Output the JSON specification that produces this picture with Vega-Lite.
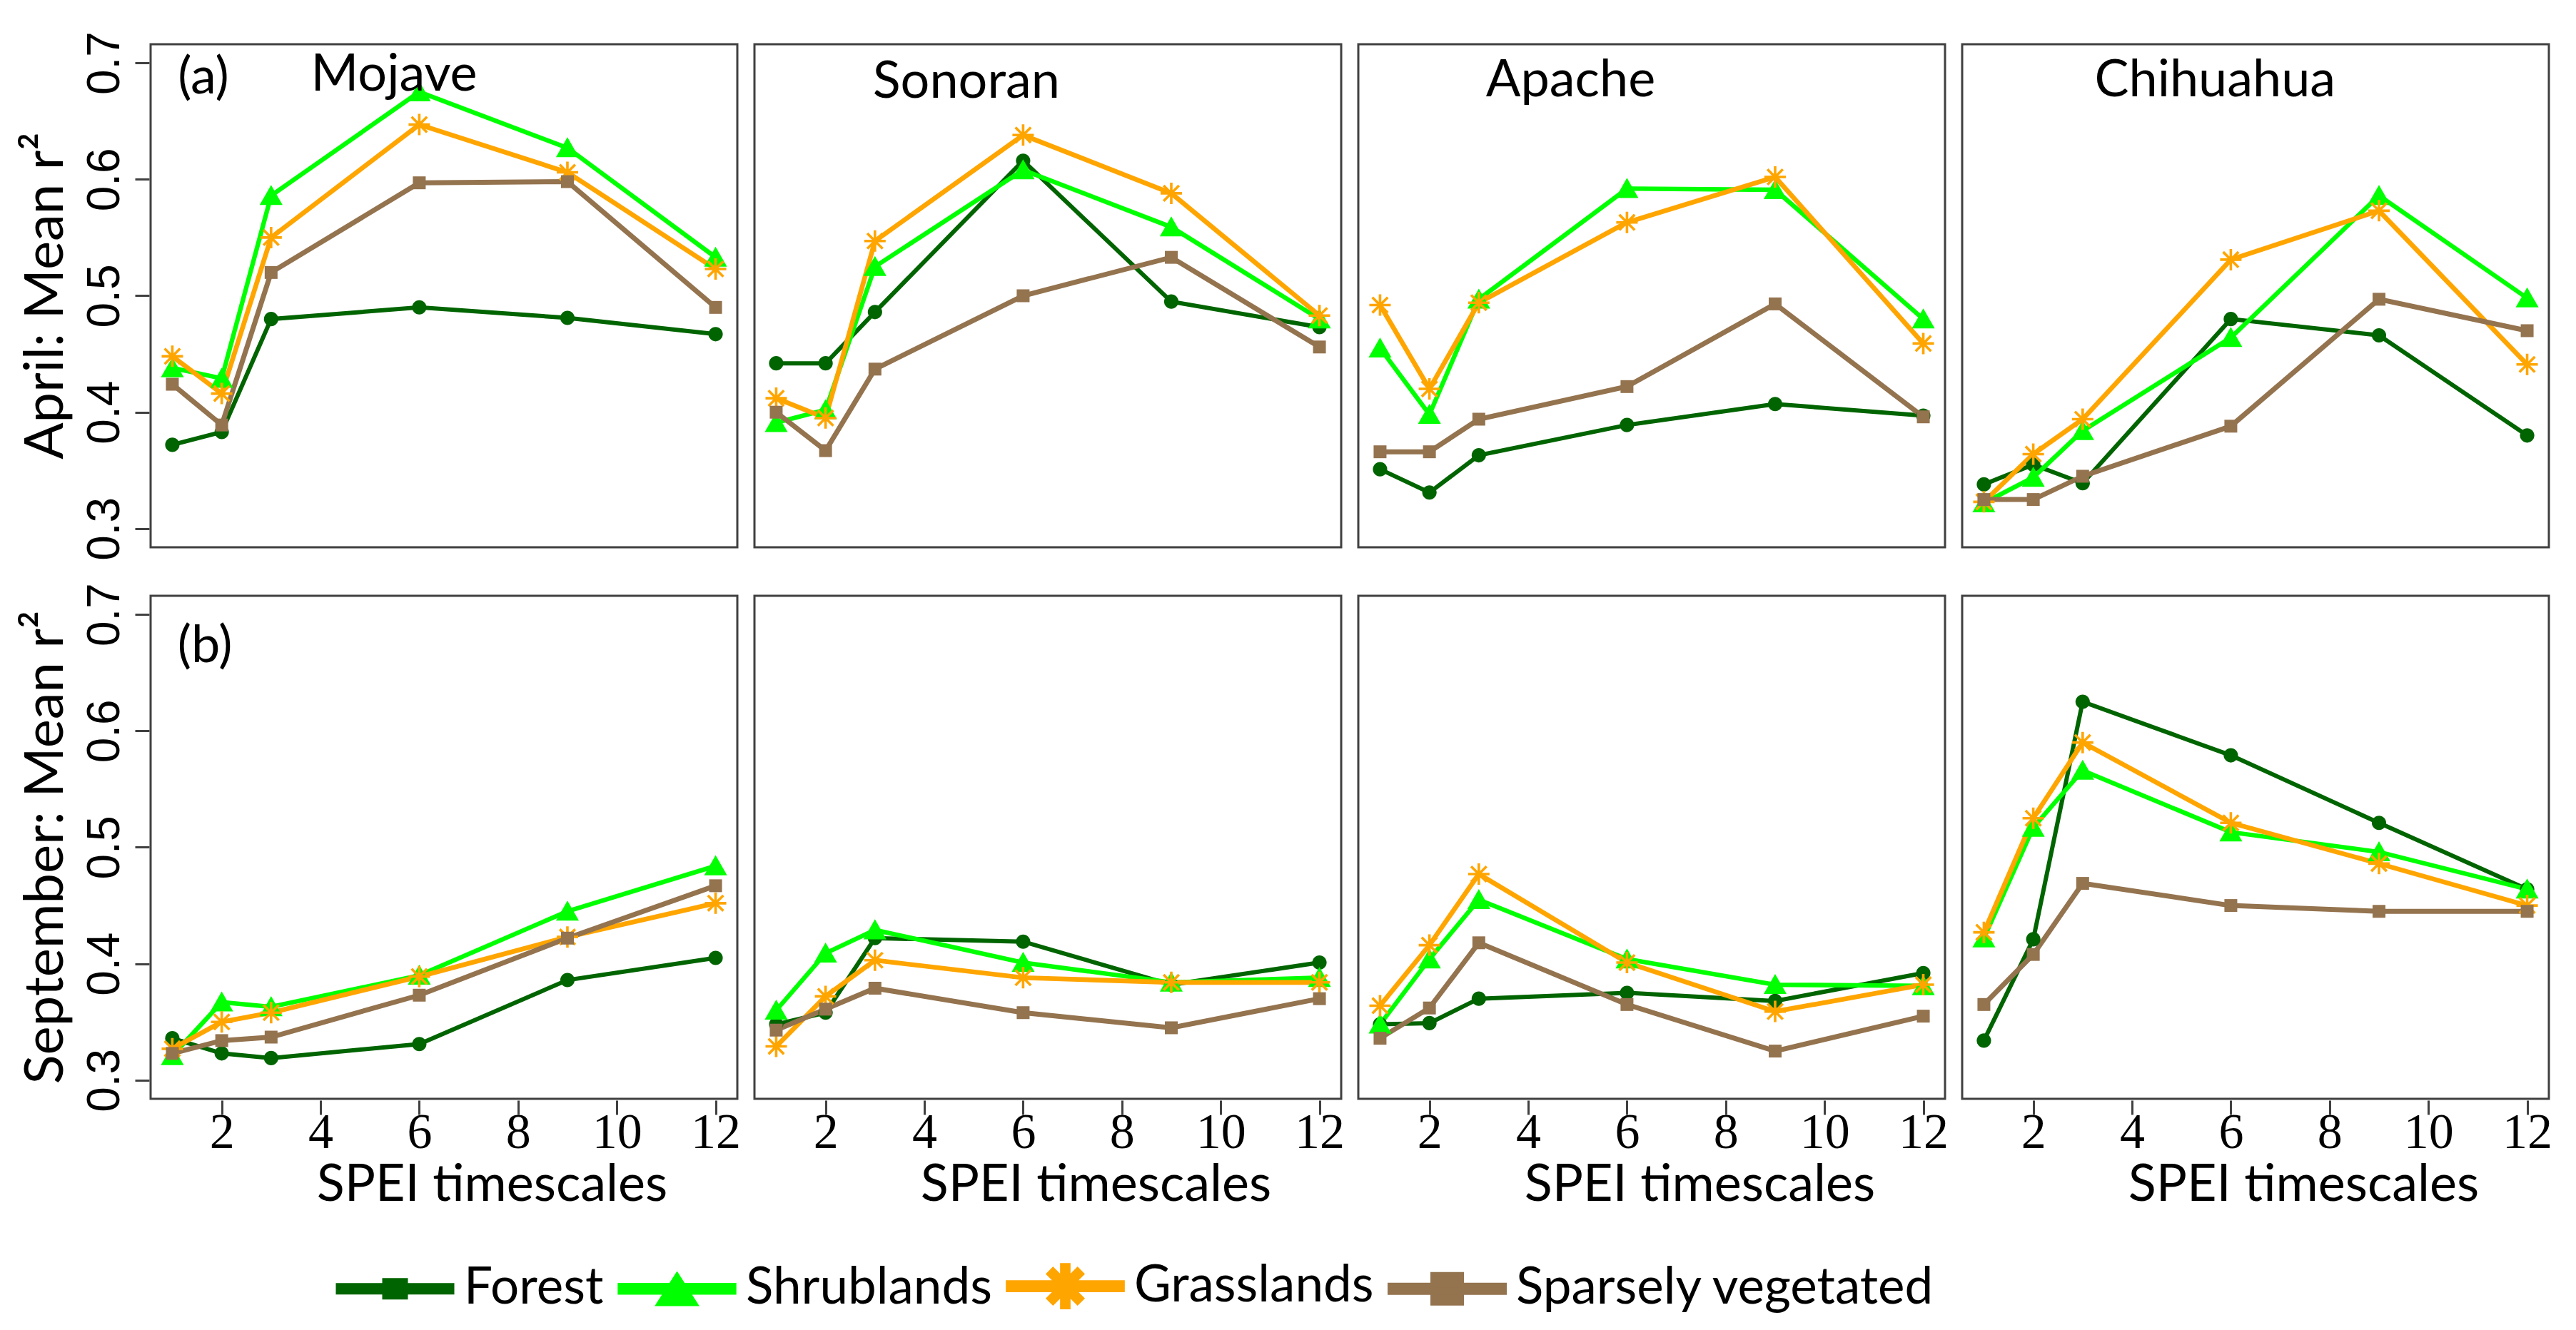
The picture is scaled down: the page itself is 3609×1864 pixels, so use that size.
{
 "$schema": "https://vega.github.io/schema/vega-lite/v6.json",
 "padding": {"left": 26, "top": 43, "right": 20, "bottom": 0},
 "background": "white",
 "config": {
  "font": "Lato",
  "view": {"stroke": "#404040", "strokeWidth": 3},
  "axis": {"grid": false, "domain": false, "tickColor": "#404040", "tickWidth": 3, "tickSize": 20, "labelColor": "#000000", "titleColor": "#000000"}
 },
 "data": {"values": [
  {"m":"April: Mean r²","g":"Mojave","c":"Forest","t":1,"r":0.372},{"m":"April: Mean r²","g":"Mojave","c":"Forest","t":2,"r":0.383},{"m":"April: Mean r²","g":"Mojave","c":"Forest","t":3,"r":0.480},{"m":"April: Mean r²","g":"Mojave","c":"Forest","t":6,"r":0.490},{"m":"April: Mean r²","g":"Mojave","c":"Forest","t":9,"r":0.481},{"m":"April: Mean r²","g":"Mojave","c":"Forest","t":12,"r":0.467},
  {"m":"April: Mean r²","g":"Mojave","c":"Shrublands","t":1,"r":0.438},{"m":"April: Mean r²","g":"Mojave","c":"Shrublands","t":2,"r":0.429},{"m":"April: Mean r²","g":"Mojave","c":"Shrublands","t":3,"r":0.586},{"m":"April: Mean r²","g":"Mojave","c":"Shrublands","t":6,"r":0.675},{"m":"April: Mean r²","g":"Mojave","c":"Shrublands","t":9,"r":0.627},{"m":"April: Mean r²","g":"Mojave","c":"Shrublands","t":12,"r":0.533},
  {"m":"April: Mean r²","g":"Mojave","c":"Grasslands","t":1,"r":0.448},{"m":"April: Mean r²","g":"Mojave","c":"Grasslands","t":2,"r":0.416},{"m":"April: Mean r²","g":"Mojave","c":"Grasslands","t":3,"r":0.550},{"m":"April: Mean r²","g":"Mojave","c":"Grasslands","t":6,"r":0.647},{"m":"April: Mean r²","g":"Mojave","c":"Grasslands","t":9,"r":0.606},{"m":"April: Mean r²","g":"Mojave","c":"Grasslands","t":12,"r":0.523},
  {"m":"April: Mean r²","g":"Mojave","c":"Sparsely vegetated","t":1,"r":0.424},{"m":"April: Mean r²","g":"Mojave","c":"Sparsely vegetated","t":2,"r":0.389},{"m":"April: Mean r²","g":"Mojave","c":"Sparsely vegetated","t":3,"r":0.520},{"m":"April: Mean r²","g":"Mojave","c":"Sparsely vegetated","t":6,"r":0.597},{"m":"April: Mean r²","g":"Mojave","c":"Sparsely vegetated","t":9,"r":0.598},{"m":"April: Mean r²","g":"Mojave","c":"Sparsely vegetated","t":12,"r":0.490},

  {"m":"April: Mean r²","g":"Sonoran","c":"Forest","t":1,"r":0.442},{"m":"April: Mean r²","g":"Sonoran","c":"Forest","t":2,"r":0.442},{"m":"April: Mean r²","g":"Sonoran","c":"Forest","t":3,"r":0.486},{"m":"April: Mean r²","g":"Sonoran","c":"Forest","t":6,"r":0.616},{"m":"April: Mean r²","g":"Sonoran","c":"Forest","t":9,"r":0.495},{"m":"April: Mean r²","g":"Sonoran","c":"Forest","t":12,"r":0.473},
  {"m":"April: Mean r²","g":"Sonoran","c":"Shrublands","t":1,"r":0.391},{"m":"April: Mean r²","g":"Sonoran","c":"Shrublands","t":2,"r":0.402},{"m":"April: Mean r²","g":"Sonoran","c":"Shrublands","t":3,"r":0.525},{"m":"April: Mean r²","g":"Sonoran","c":"Shrublands","t":6,"r":0.608},{"m":"April: Mean r²","g":"Sonoran","c":"Shrublands","t":9,"r":0.559},{"m":"April: Mean r²","g":"Sonoran","c":"Shrublands","t":12,"r":0.480},
  {"m":"April: Mean r²","g":"Sonoran","c":"Grasslands","t":1,"r":0.412},{"m":"April: Mean r²","g":"Sonoran","c":"Grasslands","t":2,"r":0.395},{"m":"April: Mean r²","g":"Sonoran","c":"Grasslands","t":3,"r":0.547},{"m":"April: Mean r²","g":"Sonoran","c":"Grasslands","t":6,"r":0.638},{"m":"April: Mean r²","g":"Sonoran","c":"Grasslands","t":9,"r":0.588},{"m":"April: Mean r²","g":"Sonoran","c":"Grasslands","t":12,"r":0.483},
  {"m":"April: Mean r²","g":"Sonoran","c":"Sparsely vegetated","t":1,"r":0.400},{"m":"April: Mean r²","g":"Sonoran","c":"Sparsely vegetated","t":2,"r":0.367},{"m":"April: Mean r²","g":"Sonoran","c":"Sparsely vegetated","t":3,"r":0.437},{"m":"April: Mean r²","g":"Sonoran","c":"Sparsely vegetated","t":6,"r":0.500},{"m":"April: Mean r²","g":"Sonoran","c":"Sparsely vegetated","t":9,"r":0.533},{"m":"April: Mean r²","g":"Sonoran","c":"Sparsely vegetated","t":12,"r":0.456},

  {"m":"April: Mean r²","g":"Apache","c":"Forest","t":1,"r":0.351},{"m":"April: Mean r²","g":"Apache","c":"Forest","t":2,"r":0.331},{"m":"April: Mean r²","g":"Apache","c":"Forest","t":3,"r":0.363},{"m":"April: Mean r²","g":"Apache","c":"Forest","t":6,"r":0.389},{"m":"April: Mean r²","g":"Apache","c":"Forest","t":9,"r":0.407},{"m":"April: Mean r²","g":"Apache","c":"Forest","t":12,"r":0.397},
  {"m":"April: Mean r²","g":"Apache","c":"Shrublands","t":1,"r":0.455},{"m":"April: Mean r²","g":"Apache","c":"Shrublands","t":2,"r":0.398},{"m":"April: Mean r²","g":"Apache","c":"Shrublands","t":3,"r":0.497},{"m":"April: Mean r²","g":"Apache","c":"Shrublands","t":6,"r":0.592},{"m":"April: Mean r²","g":"Apache","c":"Shrublands","t":9,"r":0.591},{"m":"April: Mean r²","g":"Apache","c":"Shrublands","t":12,"r":0.480},
  {"m":"April: Mean r²","g":"Apache","c":"Grasslands","t":1,"r":0.492},{"m":"April: Mean r²","g":"Apache","c":"Grasslands","t":2,"r":0.420},{"m":"April: Mean r²","g":"Apache","c":"Grasslands","t":3,"r":0.494},{"m":"April: Mean r²","g":"Apache","c":"Grasslands","t":6,"r":0.563},{"m":"April: Mean r²","g":"Apache","c":"Grasslands","t":9,"r":0.602},{"m":"April: Mean r²","g":"Apache","c":"Grasslands","t":12,"r":0.459},
  {"m":"April: Mean r²","g":"Apache","c":"Sparsely vegetated","t":1,"r":0.366},{"m":"April: Mean r²","g":"Apache","c":"Sparsely vegetated","t":2,"r":0.366},{"m":"April: Mean r²","g":"Apache","c":"Sparsely vegetated","t":3,"r":0.394},{"m":"April: Mean r²","g":"Apache","c":"Sparsely vegetated","t":6,"r":0.422},{"m":"April: Mean r²","g":"Apache","c":"Sparsely vegetated","t":9,"r":0.493},{"m":"April: Mean r²","g":"Apache","c":"Sparsely vegetated","t":12,"r":0.396},

  {"m":"April: Mean r²","g":"Chihuahua","c":"Forest","t":1,"r":0.338},{"m":"April: Mean r²","g":"Chihuahua","c":"Forest","t":2,"r":0.355},{"m":"April: Mean r²","g":"Chihuahua","c":"Forest","t":3,"r":0.339},{"m":"April: Mean r²","g":"Chihuahua","c":"Forest","t":6,"r":0.480},{"m":"April: Mean r²","g":"Chihuahua","c":"Forest","t":9,"r":0.466},{"m":"April: Mean r²","g":"Chihuahua","c":"Forest","t":12,"r":0.380},
  {"m":"April: Mean r²","g":"Chihuahua","c":"Shrublands","t":1,"r":0.322},{"m":"April: Mean r²","g":"Chihuahua","c":"Shrublands","t":2,"r":0.344},{"m":"April: Mean r²","g":"Chihuahua","c":"Shrublands","t":3,"r":0.384},{"m":"April: Mean r²","g":"Chihuahua","c":"Shrublands","t":6,"r":0.464},{"m":"April: Mean r²","g":"Chihuahua","c":"Shrublands","t":9,"r":0.586},{"m":"April: Mean r²","g":"Chihuahua","c":"Shrublands","t":12,"r":0.498},
  {"m":"April: Mean r²","g":"Chihuahua","c":"Grasslands","t":1,"r":0.323},{"m":"April: Mean r²","g":"Chihuahua","c":"Grasslands","t":2,"r":0.364},{"m":"April: Mean r²","g":"Chihuahua","c":"Grasslands","t":3,"r":0.394},{"m":"April: Mean r²","g":"Chihuahua","c":"Grasslands","t":6,"r":0.531},{"m":"April: Mean r²","g":"Chihuahua","c":"Grasslands","t":9,"r":0.573},{"m":"April: Mean r²","g":"Chihuahua","c":"Grasslands","t":12,"r":0.441},
  {"m":"April: Mean r²","g":"Chihuahua","c":"Sparsely vegetated","t":1,"r":0.325},{"m":"April: Mean r²","g":"Chihuahua","c":"Sparsely vegetated","t":2,"r":0.325},{"m":"April: Mean r²","g":"Chihuahua","c":"Sparsely vegetated","t":3,"r":0.345},{"m":"April: Mean r²","g":"Chihuahua","c":"Sparsely vegetated","t":6,"r":0.388},{"m":"April: Mean r²","g":"Chihuahua","c":"Sparsely vegetated","t":9,"r":0.497},{"m":"April: Mean r²","g":"Chihuahua","c":"Sparsely vegetated","t":12,"r":0.470},

  {"m":"September: Mean r²","g":"Mojave","c":"Forest","t":1,"r":0.336},{"m":"September: Mean r²","g":"Mojave","c":"Forest","t":2,"r":0.323},{"m":"September: Mean r²","g":"Mojave","c":"Forest","t":3,"r":0.319},{"m":"September: Mean r²","g":"Mojave","c":"Forest","t":6,"r":0.331},{"m":"September: Mean r²","g":"Mojave","c":"Forest","t":9,"r":0.386},{"m":"September: Mean r²","g":"Mojave","c":"Forest","t":12,"r":0.405},
  {"m":"September: Mean r²","g":"Mojave","c":"Shrublands","t":1,"r":0.321},{"m":"September: Mean r²","g":"Mojave","c":"Shrublands","t":2,"r":0.367},{"m":"September: Mean r²","g":"Mojave","c":"Shrublands","t":3,"r":0.363},{"m":"September: Mean r²","g":"Mojave","c":"Shrublands","t":6,"r":0.390},{"m":"September: Mean r²","g":"Mojave","c":"Shrublands","t":9,"r":0.445},{"m":"September: Mean r²","g":"Mojave","c":"Shrublands","t":12,"r":0.484},
  {"m":"September: Mean r²","g":"Mojave","c":"Grasslands","t":1,"r":0.327},{"m":"September: Mean r²","g":"Mojave","c":"Grasslands","t":2,"r":0.350},{"m":"September: Mean r²","g":"Mojave","c":"Grasslands","t":3,"r":0.358},{"m":"September: Mean r²","g":"Mojave","c":"Grasslands","t":6,"r":0.389},{"m":"September: Mean r²","g":"Mojave","c":"Grasslands","t":9,"r":0.423},{"m":"September: Mean r²","g":"Mojave","c":"Grasslands","t":12,"r":0.452},
  {"m":"September: Mean r²","g":"Mojave","c":"Sparsely vegetated","t":1,"r":0.323},{"m":"September: Mean r²","g":"Mojave","c":"Sparsely vegetated","t":2,"r":0.334},{"m":"September: Mean r²","g":"Mojave","c":"Sparsely vegetated","t":3,"r":0.337},{"m":"September: Mean r²","g":"Mojave","c":"Sparsely vegetated","t":6,"r":0.373},{"m":"September: Mean r²","g":"Mojave","c":"Sparsely vegetated","t":9,"r":0.422},{"m":"September: Mean r²","g":"Mojave","c":"Sparsely vegetated","t":12,"r":0.467},

  {"m":"September: Mean r²","g":"Sonoran","c":"Forest","t":1,"r":0.348},{"m":"September: Mean r²","g":"Sonoran","c":"Forest","t":2,"r":0.358},{"m":"September: Mean r²","g":"Sonoran","c":"Forest","t":3,"r":0.422},{"m":"September: Mean r²","g":"Sonoran","c":"Forest","t":6,"r":0.419},{"m":"September: Mean r²","g":"Sonoran","c":"Forest","t":9,"r":0.382},{"m":"September: Mean r²","g":"Sonoran","c":"Forest","t":12,"r":0.401},
  {"m":"September: Mean r²","g":"Sonoran","c":"Shrublands","t":1,"r":0.360},{"m":"September: Mean r²","g":"Sonoran","c":"Shrublands","t":2,"r":0.409},{"m":"September: Mean r²","g":"Sonoran","c":"Shrublands","t":3,"r":0.429},{"m":"September: Mean r²","g":"Sonoran","c":"Shrublands","t":6,"r":0.401},{"m":"September: Mean r²","g":"Sonoran","c":"Shrublands","t":9,"r":0.384},{"m":"September: Mean r²","g":"Sonoran","c":"Shrublands","t":12,"r":0.388},
  {"m":"September: Mean r²","g":"Sonoran","c":"Grasslands","t":1,"r":0.329},{"m":"September: Mean r²","g":"Sonoran","c":"Grasslands","t":2,"r":0.372},{"m":"September: Mean r²","g":"Sonoran","c":"Grasslands","t":3,"r":0.403},{"m":"September: Mean r²","g":"Sonoran","c":"Grasslands","t":6,"r":0.388},{"m":"September: Mean r²","g":"Sonoran","c":"Grasslands","t":9,"r":0.384},{"m":"September: Mean r²","g":"Sonoran","c":"Grasslands","t":12,"r":0.384},
  {"m":"September: Mean r²","g":"Sonoran","c":"Sparsely vegetated","t":1,"r":0.343},{"m":"September: Mean r²","g":"Sonoran","c":"Sparsely vegetated","t":2,"r":0.361},{"m":"September: Mean r²","g":"Sonoran","c":"Sparsely vegetated","t":3,"r":0.379},{"m":"September: Mean r²","g":"Sonoran","c":"Sparsely vegetated","t":6,"r":0.358},{"m":"September: Mean r²","g":"Sonoran","c":"Sparsely vegetated","t":9,"r":0.345},{"m":"September: Mean r²","g":"Sonoran","c":"Sparsely vegetated","t":12,"r":0.370},

  {"m":"September: Mean r²","g":"Apache","c":"Forest","t":1,"r":0.348},{"m":"September: Mean r²","g":"Apache","c":"Forest","t":2,"r":0.349},{"m":"September: Mean r²","g":"Apache","c":"Forest","t":3,"r":0.370},{"m":"September: Mean r²","g":"Apache","c":"Forest","t":6,"r":0.375},{"m":"September: Mean r²","g":"Apache","c":"Forest","t":9,"r":0.368},{"m":"September: Mean r²","g":"Apache","c":"Forest","t":12,"r":0.392},
  {"m":"September: Mean r²","g":"Apache","c":"Shrublands","t":1,"r":0.348},{"m":"September: Mean r²","g":"Apache","c":"Shrublands","t":2,"r":0.404},{"m":"September: Mean r²","g":"Apache","c":"Shrublands","t":3,"r":0.455},{"m":"September: Mean r²","g":"Apache","c":"Shrublands","t":6,"r":0.404},{"m":"September: Mean r²","g":"Apache","c":"Shrublands","t":9,"r":0.382},{"m":"September: Mean r²","g":"Apache","c":"Shrublands","t":12,"r":0.381},
  {"m":"September: Mean r²","g":"Apache","c":"Grasslands","t":1,"r":0.364},{"m":"September: Mean r²","g":"Apache","c":"Grasslands","t":2,"r":0.416},{"m":"September: Mean r²","g":"Apache","c":"Grasslands","t":3,"r":0.477},{"m":"September: Mean r²","g":"Apache","c":"Grasslands","t":6,"r":0.401},{"m":"September: Mean r²","g":"Apache","c":"Grasslands","t":9,"r":0.359},{"m":"September: Mean r²","g":"Apache","c":"Grasslands","t":12,"r":0.382},
  {"m":"September: Mean r²","g":"Apache","c":"Sparsely vegetated","t":1,"r":0.336},{"m":"September: Mean r²","g":"Apache","c":"Sparsely vegetated","t":2,"r":0.362},{"m":"September: Mean r²","g":"Apache","c":"Sparsely vegetated","t":3,"r":0.418},{"m":"September: Mean r²","g":"Apache","c":"Sparsely vegetated","t":6,"r":0.365},{"m":"September: Mean r²","g":"Apache","c":"Sparsely vegetated","t":9,"r":0.325},{"m":"September: Mean r²","g":"Apache","c":"Sparsely vegetated","t":12,"r":0.355},

  {"m":"September: Mean r²","g":"Chihuahua","c":"Forest","t":1,"r":0.334},{"m":"September: Mean r²","g":"Chihuahua","c":"Forest","t":2,"r":0.421},{"m":"September: Mean r²","g":"Chihuahua","c":"Forest","t":3,"r":0.625},{"m":"September: Mean r²","g":"Chihuahua","c":"Forest","t":6,"r":0.579},{"m":"September: Mean r²","g":"Chihuahua","c":"Forest","t":9,"r":0.521},{"m":"September: Mean r²","g":"Chihuahua","c":"Forest","t":12,"r":0.464},
  {"m":"September: Mean r²","g":"Chihuahua","c":"Shrublands","t":1,"r":0.422},{"m":"September: Mean r²","g":"Chihuahua","c":"Shrublands","t":2,"r":0.517},{"m":"September: Mean r²","g":"Chihuahua","c":"Shrublands","t":3,"r":0.566},{"m":"September: Mean r²","g":"Chihuahua","c":"Shrublands","t":6,"r":0.513},{"m":"September: Mean r²","g":"Chihuahua","c":"Shrublands","t":9,"r":0.496},{"m":"September: Mean r²","g":"Chihuahua","c":"Shrublands","t":12,"r":0.464},
  {"m":"September: Mean r²","g":"Chihuahua","c":"Grasslands","t":1,"r":0.427},{"m":"September: Mean r²","g":"Chihuahua","c":"Grasslands","t":2,"r":0.525},{"m":"September: Mean r²","g":"Chihuahua","c":"Grasslands","t":3,"r":0.590},{"m":"September: Mean r²","g":"Chihuahua","c":"Grasslands","t":6,"r":0.521},{"m":"September: Mean r²","g":"Chihuahua","c":"Grasslands","t":9,"r":0.486},{"m":"September: Mean r²","g":"Chihuahua","c":"Grasslands","t":12,"r":0.450},
  {"m":"September: Mean r²","g":"Chihuahua","c":"Sparsely vegetated","t":1,"r":0.365},{"m":"September: Mean r²","g":"Chihuahua","c":"Sparsely vegetated","t":2,"r":0.408},{"m":"September: Mean r²","g":"Chihuahua","c":"Sparsely vegetated","t":3,"r":0.469},{"m":"September: Mean r²","g":"Chihuahua","c":"Sparsely vegetated","t":6,"r":0.450},{"m":"September: Mean r²","g":"Chihuahua","c":"Sparsely vegetated","t":9,"r":0.445},{"m":"September: Mean r²","g":"Chihuahua","c":"Sparsely vegetated","t":12,"r":0.445},

  {"m":"April: Mean r²","g":"Mojave","label":"(a)","t":1.63,"r":0.674},
  {"m":"April: Mean r²","g":"Mojave","label":"Mojave","t":5.49,"r":0.676},
  {"m":"April: Mean r²","g":"Sonoran","label":"Sonoran","t":4.85,"r":0.670},
  {"m":"April: Mean r²","g":"Apache","label":"Apache","t":4.86,"r":0.671},
  {"m":"April: Mean r²","g":"Chihuahua","label":"Chihuahua","t":5.68,"r":0.671},
  {"m":"September: Mean r²","g":"Mojave","label":"(b)","t":1.66,"r":0.659}
 ]},
 "facet": {
  "row": {"field": "m", "type": "nominal", "sort": ["April: Mean r²", "September: Mean r²"], "title": null,
          "header": {"labelAngle": -90, "labelOrient": "left", "labelFont": "Lato", "labelFontSize": 76, "labelPadding": -26, "labelColor": "#000000"}},
  "column": {"field": "g", "type": "nominal", "sort": ["Mojave", "Sonoran", "Apache", "Chihuahua"], "title": null, "header": {"labels": false}}
 },
 "spacing": {"row": 64, "column": 20},
 "spec": {
  "width": 822,
  "height": 705,
  "layer": [
   {
    "transform": [{"filter": "false"}],
    "mark": {"type": "point", "filled": true, "size": 1600, "opacity": 1},
    "encoding": {
     "x": {"field": "t", "type": "quantitative"},
     "y": {"field": "r", "type": "quantitative"},
     "color": {"field": "c", "type": "nominal",
               "legend": {"title": null, "orient": "none", "legendX": 247, "legendY": 1705, "direction": "horizontal", "columns": 4,
                          "symbolSize": 1600, "symbolOffset": 60, "labelOffset": 61, "labelFont": "Lato", "labelFontSize": 71, "labelColor": "#000000",
                          "columnPadding": 7, "labelLimit": 0, "symbolStrokeWidth": 0}},
     "shape": {"field": "c", "type": "nominal",
               "scale": {"domain": ["Forest", "Shrublands", "Grasslands", "Sparsely vegetated"],
                         "range": ["M-4,-0.25H4V0.25H-4Z M-0.75,-0.6H0.75V0.6H-0.75Z",
                                   "M-4,-0.25H4V0.25H-4Z M0,-0.95L1.28,1.05L-1.28,1.05Z",
                                   "M-4,-0.25H4V0.25H-4Z M-0.2,-1.45H0.2V1.45H-0.2Z M-0.859,-1.141L1.141,0.859L0.859,1.141L-1.141,-0.859Z M-0.859,1.141L-1.141,0.859L0.859,-1.141L1.141,-0.859Z",
                                   "M-4,-0.25H4V0.25H-4Z M-1,-1H1V1H-1Z"]},
               "legend": {"title": null, "orient": "none", "legendX": 247, "legendY": 1705, "direction": "horizontal", "columns": 4,
                          "symbolSize": 1600, "symbolOffset": 60, "labelOffset": 61, "labelFont": "Lato", "labelFontSize": 71, "labelColor": "#000000",
                          "columnPadding": 7, "labelLimit": 0, "symbolStrokeWidth": 0}}
    }
   },
   {
    "transform": [{"filter": "isValid(datum.c)"}],
    "mark": {"type": "line"},
    "encoding": {
     "x": {"field": "t", "type": "quantitative", "scale": {"domain": [0.56, 12.44], "nice": false, "zero": false},
           "axis": {"values": [2, 4, 6, 8, 10, 12], "format": "d", "title": "SPEI timescales", "labelFont": "Liberation Serif", "labelFontSize": 70, "labelBaseline": "middle", "labelPadding": 25, "titleFont": "Lato", "titleFontSize": 72, "titleFontWeight": "normal", "titleBaseline": "middle", "titleX": 478, "titleY": 118}},
     "y": {"field": "r", "type": "quantitative", "scale": {"domain": [0.284, 0.716], "nice": false, "zero": false},
           "axis": {"values": [0.3, 0.4, 0.5, 0.6, 0.7], "title": null, "labelAngle": -90, "labelFont": "Liberation Sans", "labelFontSize": 64, "labelPadding": 10, "format": ".1f"}},
     "color": {"field": "c", "type": "nominal",
               "scale": {"domain": ["Forest", "Shrublands", "Grasslands", "Sparsely vegetated"], "range": ["#006400", "#00FF00", "#FFA500", "#94734F"]}},
     "strokeWidth": {"field": "c", "type": "nominal", "scale": {"domain": ["Forest", "Shrublands", "Grasslands", "Sparsely vegetated"], "range": [6, 7, 5, 5]}, "legend": null}
    }
   },
   {
    "transform": [{"filter": "datum.c === 'Forest'"}],
    "mark": {"type": "point", "filled": true, "size": 900, "opacity": 1, "shape": "M-0.67,0A0.67,0.67 0 1,1 0.67,0A0.67,0.67 0 1,1 -0.67,0Z"},
    "encoding": {"x": {"field": "t", "type": "quantitative"}, "y": {"field": "r", "type": "quantitative"}, "color": {"field": "c", "type": "nominal"}}
   },
   {
    "transform": [{"filter": "datum.c === 'Shrublands'"}],
    "mark": {"type": "point", "filled": true, "size": 900, "opacity": 1, "shape": "M0,-1L1.07,0.87L-1.07,0.87Z"},
    "encoding": {"x": {"field": "t", "type": "quantitative"}, "y": {"field": "r", "type": "quantitative"}, "color": {"field": "c", "type": "nominal"}}
   },
   {
    "transform": [{"filter": "datum.c === 'Grasslands'"}],
    "mark": {"type": "point", "filled": true, "size": 900, "opacity": 1, "shape": "M-1,-0.12H1V0.12H-1Z M-0.12,-1H0.12V1H-0.12Z M-0.635,-0.805L0.805,0.635L0.635,0.805L-0.805,-0.635Z M-0.635,0.805L-0.805,0.635L0.635,-0.805L0.805,-0.635Z"},
    "encoding": {"x": {"field": "t", "type": "quantitative"}, "y": {"field": "r", "type": "quantitative"}, "color": {"field": "c", "type": "nominal"}}
   },
   {
    "transform": [{"filter": "datum.c === 'Sparsely vegetated'"}],
    "mark": {"type": "point", "filled": true, "size": 900, "opacity": 1, "shape": "M-0.6,-0.6H0.6V0.6H-0.6Z"},
    "encoding": {"x": {"field": "t", "type": "quantitative"}, "y": {"field": "r", "type": "quantitative"}, "color": {"field": "c", "type": "nominal"}}
   },
   {
    "transform": [{"filter": "isValid(datum.label)"}],
    "mark": {"type": "text", "font": "Lato", "fontSize": 72, "align": "center", "baseline": "alphabetic", "color": "#000000"},
    "encoding": {
     "x": {"field": "t", "type": "quantitative"},
     "y": {"field": "r", "type": "quantitative"},
     "text": {"field": "label"}
    }
   }
  ]
 }
}
